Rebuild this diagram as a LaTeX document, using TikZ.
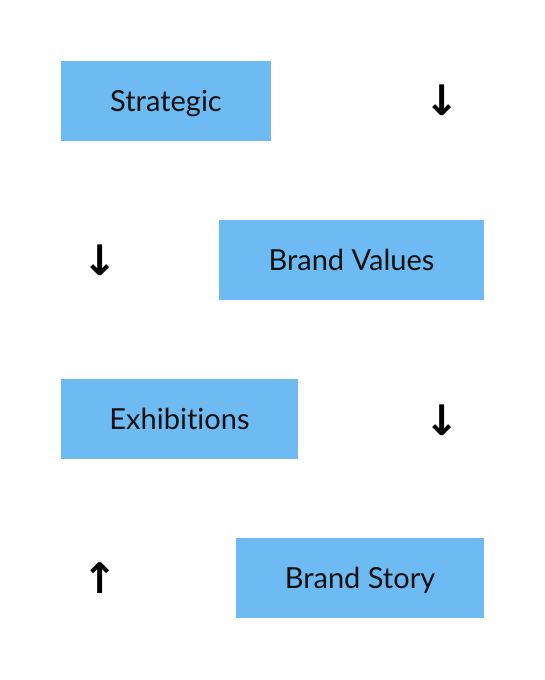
\documentclass[tikz,border=0pt]{standalone}
\usepackage{fontspec}
\setmainfont{Lato}[Ligatures=CommonOff]
\newfontfamily\arrowfont{DejaVu Sans}
\definecolor{boxblue}{HTML}{6EBAF2}
\definecolor{ink}{HTML}{111111}
\begin{document}
\begin{tikzpicture}[x=1pt,y=-1pt,
  box/.style={fill=boxblue,draw=none,inner sep=0pt,font=\fontsize{29}{33}\selectfont,text=ink,text height=21pt,text depth=0pt},
  arr/.style={inner sep=0pt,font=\arrowfont\bfseries\fontsize{42}{46}\selectfont,text=black}]
\useasboundingbox (0,0) rectangle (544,680);
\fill[white] (0,0) rectangle (544,680);
\node[box,minimum width=210pt,minimum height=80pt] (s) at (166,101) {Strategic};
\node[box,minimum width=265pt,minimum height=80pt] (bv) at (351.5,260) {Brand Values};
\node[box,minimum width=237pt,minimum height=80pt] (ex) at (179.5,419) {Exhibitions};
\node[box,minimum width=248pt,minimum height=80pt] (bs) at (360,578) {Brand Story};
\node[arr] (a1) at (442,100) {↓};
\node[arr] (a2) at (100,260) {↓};
\node[arr] (a3) at (442,420) {↓};
\node[arr] (a4) at (100,578) {↑};
\end{tikzpicture}
\end{document}
